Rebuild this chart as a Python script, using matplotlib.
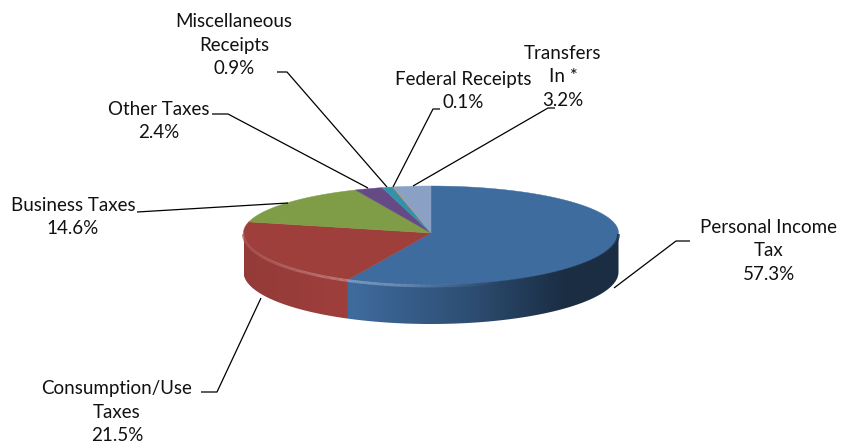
import numpy as np
import matplotlib
matplotlib.use("Agg")
import matplotlib.pyplot as plt
from matplotlib.colors import to_rgb
from matplotlib.collections import LineCollection
from matplotlib.patches import Polygon

categories = ["Personal Income\nTax", "Consumption/Use\nTaxes", "Business Taxes",
              "Other Taxes", "Miscellaneous\nReceipts", "Federal Receipts",
              "Transfers\nIn *"]
shares = [57.3, 21.5, 14.6, 2.4, 0.9, 0.1, 3.2]
colors = ["#3f6c9f", "#9f3f3c", "#7f9c47", "#664a85", "#2f93ab", "#d9823a", "#8aa0c5"]

# layout (pixel space)
CX, CY, RX, RY_BACK, RY_FRONT, DEPTH = 431, 233, 187.5, 47, 52, 39
label_xy = [(769, 251), (117, 412), (73, 217), (159, 121), (234, 45), (463, 91), (563, 77)]
leaders = [
    [(614, 288), (676, 241), (690, 241)],
    [(261, 298), (217, 392), (201, 392)],
    [(288, 203), (137, 212)],
    [(368, 188), (228, 114), (212, 114)],
    [(387, 187), (287, 72), (277, 72)],
    [(393, 187), (433, 109), (440, 109)],
    [(413, 186), (548, 108), (555, 108)],
]

plt.rcParams["font.family"] = ["Lato", "DejaVu Sans"]
fig = plt.figure(figsize=(8.44, 4.48), dpi=100)
ax = fig.add_axes([0, 0, 1, 1])
ax.axis("off")


def rim(t):
    t = np.asarray(t, dtype=float)
    c = np.cos(t)
    return CX + RX * np.sin(t), CY - np.where(c > 0, RY_BACK, RY_FRONT) * c


def shade(x):
    return np.interp(x, [244, 348, 470, 565, 619], [0.93, 1.0, 0.72, 0.42, 0.42])


def mix(a, b, f):
    return tuple((1 - f) * p + f * q for p, q in zip(a, b))


edges = np.radians(np.concatenate([[0], np.cumsum(shares) / np.sum(shares) * 360]))

# side wall: horizontal gradient clipped to each slice's visible band
for a, b, col in zip(edges[:-1], edges[1:], colors):
    lo, hi = max(a, np.pi / 2), min(b, 3 * np.pi / 2)
    if hi <= lo:
        continue
    ts = np.linspace(lo, hi, 200)
    x, y = rim(ts)
    outline = np.r_[np.c_[x, y], np.c_[x[::-1], y[::-1] + DEPTH]]
    xs = np.linspace(x.min(), x.max(), 400)
    img = (np.array(to_rgb(col))[None, None, :] * shade(xs)[None, :, None])
    im = ax.imshow(img, extent=(x.min(), x.max(), y.max() + DEPTH, y.min()),
                   aspect="auto", interpolation="bilinear", zorder=2)
    im.set_clip_path(Polygon(outline, transform=ax.transData))

# top face
for a, b, col in zip(edges[:-1], edges[1:], colors):
    ts = np.linspace(a, b, max(3, int(np.degrees(b - a) * 2)))
    x, y = rim(ts)
    ax.fill(np.r_[CX, x], np.r_[CY, y], color=col, lw=0.3, zorder=3)

# bevel highlight along the front rim
segs, cols = [], []
for a, b, col in zip(edges[:-1], edges[1:], colors):
    lo, hi = max(a, np.pi / 2), min(b, 3 * np.pi / 2)
    if hi <= lo:
        continue
    ts = np.linspace(lo, hi, 160)
    x, y = rim(ts)
    base = to_rgb(col)
    for i in range(len(ts) - 1):
        xm = (x[i] + x[i + 1]) / 2
        glow = np.interp(abs(xm - 348), [0, 60, 130], [0.32, 0.2, 0.06])
        wall = tuple(np.array(base) * shade(xm))
        tone = mix(mix(base, (1, 1, 1), glow), wall, np.interp(xm, [400, 500], [0, 1]))
        segs.append([(x[i], y[i] + 1), (x[i + 1], y[i + 1] + 1)])
        cols.append(tone)
ax.add_collection(LineCollection(segs, colors=cols, linewidths=2.0, zorder=4))

# labels and leader lines
for name, value, (lx, ly), pts in zip(categories, shares, label_xy, leaders):
    ax.text(lx, ly, f"{name}\n{value:.1f}%", ha="center", va="center", fontsize=13.5,
            color="#111111", linespacing=1.47, zorder=6)
    xs, ys = zip(*pts)
    ax.plot(xs, ys, color="black", lw=0.9, zorder=5, solid_capstyle="butt")

ax.set_xlim(0, 844)
ax.set_ylim(448, 0)
fig.savefig("out.png", dpi=100)
